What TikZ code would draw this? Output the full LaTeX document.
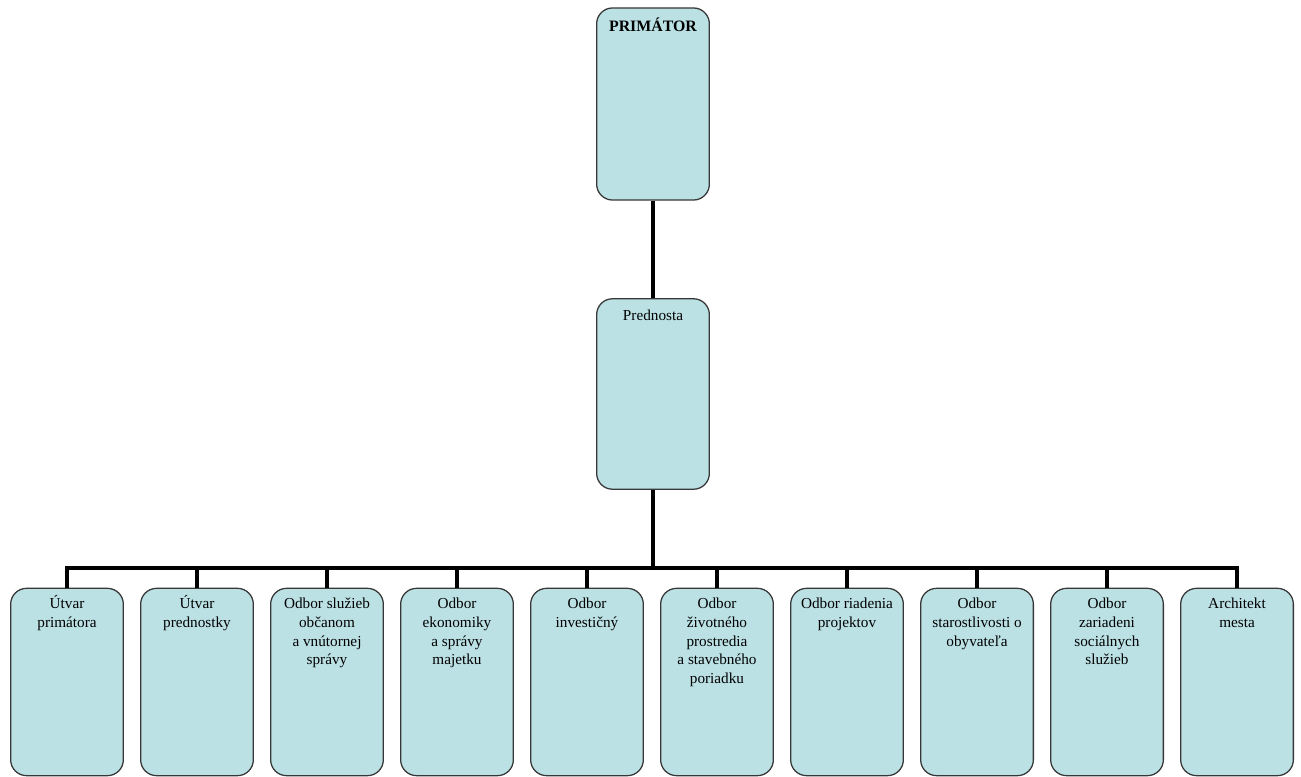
\documentclass[tikz,border=0pt]{standalone}
\usepackage{fontspec}
\setmainfont{Liberation Serif}
\usetikzlibrary{positioning}
\definecolor{boxblue}{RGB}{187,225,229}
\definecolor{boxedge}{RGB}{55,55,55}
\tikzset{
	orgbox/.style={draw=boxedge, line width=0.8pt, fill=boxblue, rounded corners=10pt, minimum width=71pt, inner sep=0pt},
	orgtext/.style={anchor=north, align=center, inner sep=0pt, font=\fontsize{9.6}{11.8}\selectfont},
	link/.style={line width=2.4pt, color=black}
}
\newcommand{\tstrut}{\rule{0pt}{9pt}}

\begin{document}
\begin{tikzpicture}[x=0.63pt, y=-0.63pt]
		%%%%% START %%%%%
		\useasboundingbox (0, 0) rectangle (1301, 777);
		
		\node[orgbox, minimum height=121pt] (prim) at (653, 104) {};
		\node[orgtext, font=\fontsize{10}{11.8}\selectfont\bfseries] (primt) at ([yshift=-6pt]prim.north) {\tstrut PRIMÁTOR};
		
		\node[orgbox, minimum height=120pt] (pred) at (653, 394) {};
		\node[orgtext] (predt) at ([yshift=-5pt]pred.north) {\tstrut Prednosta};
		
		\coordinate (bus) at (653, 568);
		
		\node[orgbox, minimum height=118pt] (b1) at (67, 682) {};
		\node[orgbox, minimum height=118pt] (b2) at (197, 682) {};
		\node[orgbox, minimum height=118pt] (b3) at (327, 682) {};
		\node[orgbox, minimum height=118pt] (b4) at (457, 682) {};
		\node[orgbox, minimum height=118pt] (b5) at (587, 682) {};
		\node[orgbox, minimum height=118pt] (b6) at (717, 682) {};
		\node[orgbox, minimum height=118pt] (b7) at (847, 682) {};
		\node[orgbox, minimum height=118pt] (b8) at (977, 682) {};
		\node[orgbox, minimum height=118pt] (b9) at (1107, 682) {};
		\node[orgbox, minimum height=118pt] (b10) at (1237, 682) {};
		
		\node[orgtext] (b1t) at ([yshift=-4pt]b1.north) {\tstrut Útvar\\primátora};
		\node[orgtext] (b2t) at ([yshift=-4pt]b2.north) {\tstrut Útvar\\prednostky};
		\node[orgtext] (b3t) at ([yshift=-4pt]b3.north) {\tstrut Odbor služieb\\občanom\\a vnútornej\\správy};
		\node[orgtext] (b4t) at ([yshift=-4pt]b4.north) {\tstrut Odbor\\ekonomiky\\a správy\\majetku};
		\node[orgtext] (b5t) at ([yshift=-4pt]b5.north) {\tstrut Odbor\\investičný};
		\node[orgtext] (b6t) at ([yshift=-4pt]b6.north) {\tstrut Odbor\\životného\\prostredia\\a stavebného\\poriadku};
		\node[orgtext] (b7t) at ([yshift=-4pt]b7.north) {\tstrut Odbor riadenia\\projektov};
		\node[orgtext] (b8t) at ([yshift=-4pt]b8.north) {\tstrut Odbor\\starostlivosti o\\obyvateľa};
		\node[orgtext] (b9t) at ([yshift=-4pt]b9.north) {\tstrut Odbor\\zariadeni\\sociálnych\\služieb};
		\node[orgtext] (b10t) at ([yshift=-4pt]b10.north) {\tstrut Architekt\\mesta};
		
		\draw[link] (prim.south) -- (pred.north);
		\draw[link] (pred.south) -- (bus);
		\draw[link] (b1.north) |- (bus) -| (b10.north);
		\draw[link] (b2.north) -- (b2.north |- bus);
		\draw[link] (b3.north) -- (b3.north |- bus);
		\draw[link] (b4.north) -- (b4.north |- bus);
		\draw[link] (b5.north) -- (b5.north |- bus);
		\draw[link] (b6.north) -- (b6.north |- bus);
		\draw[link] (b7.north) -- (b7.north |- bus);
		\draw[link] (b8.north) -- (b8.north |- bus);
		\draw[link] (b9.north) -- (b9.north |- bus);
		
		%%%%% END %%%%%
	\end{tikzpicture}
\end{document}
